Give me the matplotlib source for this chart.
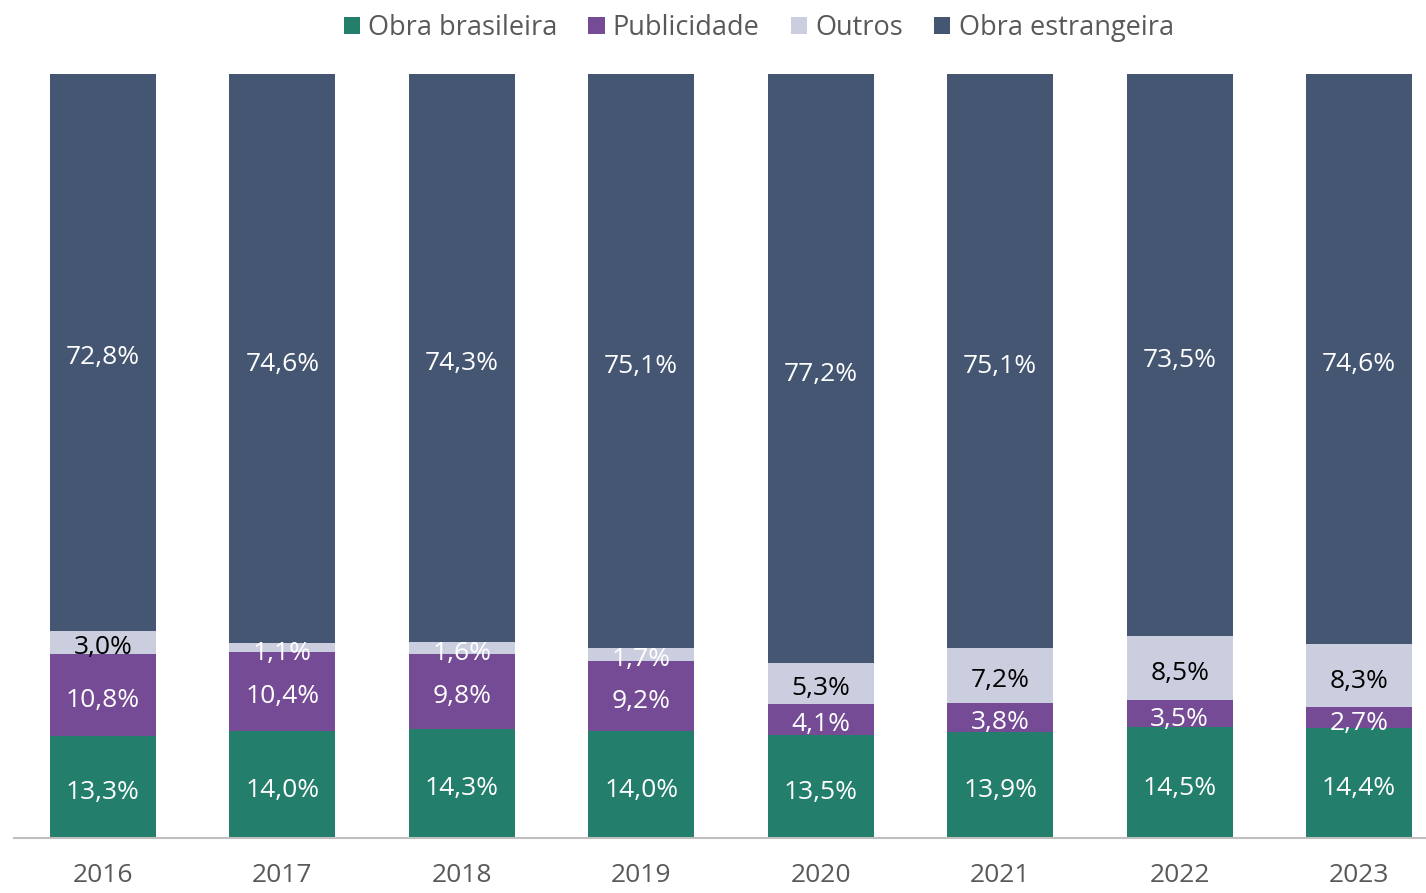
import matplotlib.pyplot as plt
import numpy as np

years = ["2016", "2017", "2018", "2019", "2020", "2021", "2022", "2023"]
obra_brasileira = [13.3, 14.0, 14.3, 14.0, 13.5, 13.9, 14.5, 14.4]
publicidade = [10.8, 10.4, 9.8, 9.2, 4.1, 3.8, 3.5, 2.7]
outros = [3.0, 1.1, 1.6, 1.7, 5.3, 7.2, 8.5, 8.3]
obra_estrangeira = [72.8, 74.6, 74.3, 75.1, 77.2, 75.1, 73.5, 74.6]

series = [
    ("Obra brasileira", obra_brasileira, "#237E6C", "white"),
    ("Publicidade", publicidade, "#744B94", "white"),
    ("Outros", outros, "#CBCEDF", None),
    ("Obra estrangeira", obra_estrangeira, "#455673", "white"),
]


def fmt(v):
    return f"{v:.1f}%".replace(".", ",")


def main():
    plt.rcParams['font.family'] = ['Open Sans', 'DejaVu Sans']
    fig = plt.figure(figsize=(14.26, 8.93), dpi=100)
    ax = fig.add_axes([0.0098, 0.0616, 0.9902, 0.8556])

    x = np.arange(len(years))
    totals = np.sum([s[1] for s in series], axis=0)
    bottom = np.zeros(len(years))
    for name, vals, color, tcolor in series:
        h = np.array(vals) / totals * 100
        ax.bar(x, h, bottom=bottom, width=0.59, color=color, label=name)
        for i, v in enumerate(vals):
            if tcolor is None:
                c = "white" if v < 2.5 else "black"
            else:
                c = tcolor
            ax.annotate(fmt(v), (x[i], bottom[i] + h[i] / 2), xytext=(0, -4),
                        textcoords="offset points", ha="center", va="center",
                        fontsize=19, color=c)
        bottom += h

    ax.set_xlim(-0.496, 7.373)
    ax.set_ylim(0, 100)
    ax.set_yticks([])
    ax.set_xticks(x)
    ax.set_xticklabels(years, fontsize=19, color="#595959")
    ax.tick_params(axis="x", length=0, pad=18)
    for s in ["top", "right", "left"]:
        ax.spines[s].set_visible(False)
    ax.spines["bottom"].set_color("#BFBFBF")
    ax.spines["bottom"].set_linewidth(1.5)

    leg = fig.legend(loc="center", bbox_to_anchor=(0.532, 0.969), ncol=4, frameon=False,
                     fontsize=19.5, handlelength=0.6, handleheight=0.6, handletextpad=0.3,
                     columnspacing=1.15)
    for t in leg.get_texts():
        t.set_color("#595959")

    fig.savefig("out.png", dpi=100)


if __name__ == "__main__":
    main()
